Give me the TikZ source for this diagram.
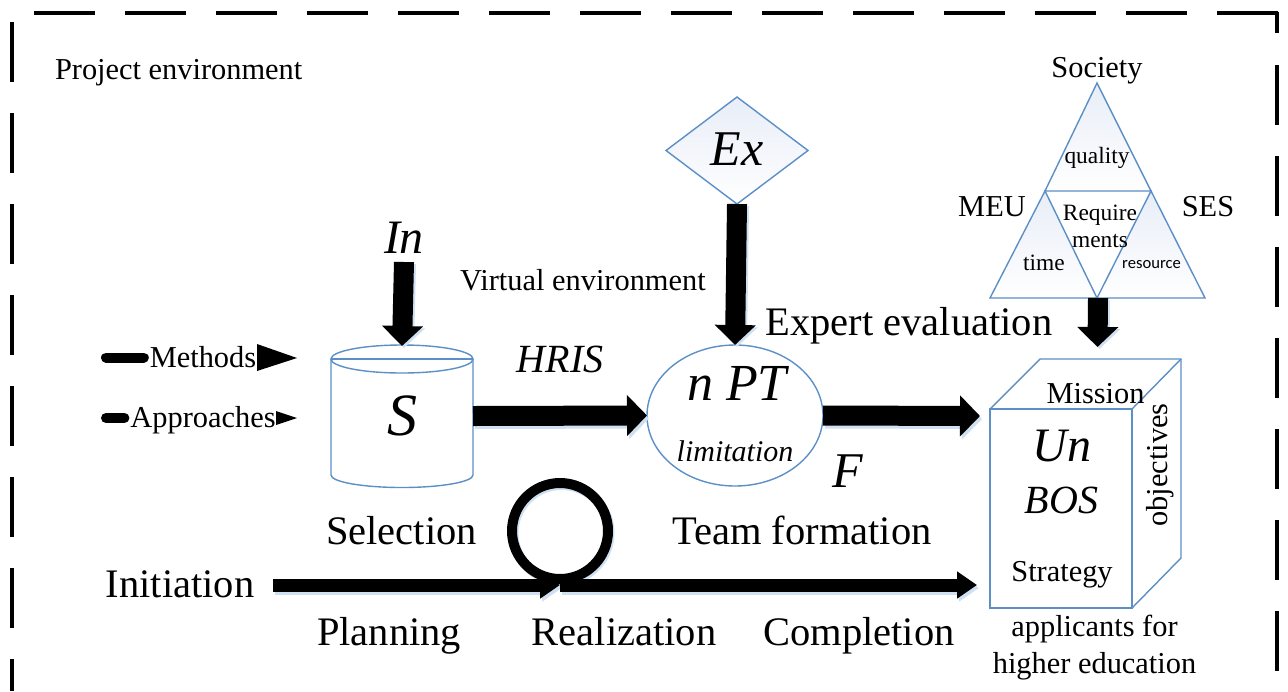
\documentclass[tikz,border=0pt]{standalone}
\usepackage{fontspec}
\setmainfont{Liberation Serif}
\newfontfamily\calfont{Carlito}
\usetikzlibrary{arrows.meta,shapes.geometric}
\definecolor{edgeblue}{HTML}{5B8FC6}
\definecolor{shadeblue}{HTML}{E8EDF7}
\definecolor{shadowblue}{HTML}{CFE0F2}
\tikzset{
  x=0.5pt,y=-0.5pt,
  lab/.style={inner sep=0pt,outer sep=0pt,anchor=base},
  labw/.style={inner sep=0pt,outer sep=0pt,anchor=base west},
  fa/.style={font=\fontsize{15.2pt}{15.2pt}\selectfont},
  fb/.style={font=\fontsize{20.25pt}{20.25pt}\selectfont},
  fc/.style={font=\fontsize{11.7pt}{11.7pt}\selectfont},
  fi/.style={font=\fontsize{#1pt}{#1pt}\selectfont\itshape},
  outline/.style={draw=edgeblue,line width=0.7pt,line join=miter},
  tri/.style={outline,top color=shadeblue,bottom color=white},
  frameline/.style={line width=2pt,black},
  blockarrow/.style={line width=10pt,black,-{Triangle[length=10pt,width=20pt]}},
  thinblock/.style={line width=6.5pt,black,-{Triangle[length=10pt,width=13pt]}},
  stroke/.style={line width=5pt,line cap=round,black,shorten >=3pt}
}
\begin{document}
\begin{tikzpicture}
\useasboundingbox (0,0) rectangle (1288,691);
% frame
\draw[frameline,dash pattern=on 30.25pt off 15.25pt] (34,13) -- (1279,13);
\draw[frameline] (1277,12) -- (1277,33);
\draw[frameline,dash pattern=on 29.75pt off 15.75pt] (1277,65) -- (1277,691);
\draw[frameline,dash pattern=on 30pt off 15.5pt] (12,22) -- (12,691);
% triangle group
\shade[tri] (1097,83) -- (1151,191) -- (1045,191) -- cycle;
\shade[tri] (1045,191) -- (1097,298) -- (990,298) -- cycle;
\shade[tri] (1151,191) -- (1205,298) -- (1097,298) -- cycle;
\coordinate (tribase) at (1098,298);
\coordinate (triarrowend) at (1097.5,347);
% shapes
\node[diamond,outline,top color=shadeblue,bottom color=white,minimum width=71pt,minimum height=53.5pt,inner sep=0pt,outer sep=0pt] (ex) at (737,150.5) {};
\node[ellipse,outline,minimum width=88pt,minimum height=70.5pt,inner sep=0pt,outer sep=0pt] (pt) at (735,415.5) {};
\node[inner sep=0pt,outer sep=0pt,minimum width=71pt,minimum height=71pt] (s) at (402,416) {};
\draw[outline] (331,359) -- (331,475) arc[start angle=180,end angle=0,x radius=71,y radius=12.5] -- (473,359);
\draw[outline] (402,359) ellipse[x radius=71,y radius=14];
\draw[outline] (331,359) -- (473,359);
% box
\node[rectangle,outline,minimum width=71pt,minimum height=99.5pt,inner sep=0pt,outer sep=0pt] (un) at (1061,508.5) {};
\draw[outline] (un.north west) -- (1040,359) -- (1181,359) -- (1181,558) -- (un.south east);
\draw[outline] (un.north east) -- (1181,359);
% named ends
\coordinate (inTop) at (404,262);
\coordinate (inEnd) at (402,346);
\coordinate (fEnd) at (980,416);
\coordinate (lineA) at (273,585);
\coordinate (lineB) at (560,585);
\coordinate (lineC) at (977,585);
% shadows
\draw[blockarrow,shadowblue] ([shift={(2,3)}]s.east) -- ([shift={(2,3)}]pt.west);
\draw[blockarrow,shadowblue] ([shift={(2,3)}]pt.east) -- ([shift={(2,3)}]fEnd);
\draw[blockarrow,shadowblue] ([shift={(2,2)}]inTop) -- ([shift={(2,2)}]inEnd);
\draw[blockarrow,shadowblue] ([shift={(2,2)}]ex.south) -- ([shift={(2,2)}]pt.north);
\draw[blockarrow,shadowblue] ([shift={(2,2)}]tribase) -- ([shift={(2,2)}]triarrowend);
\draw[thinblock,shadowblue] ([shift={(2,3)}]lineA) -- ([shift={(2,3)}]lineB);
\draw[thinblock,shadowblue] ([shift={(2,3)}]lineB) -- ([shift={(2,3)}]lineC);
\draw[shadowblue,line width=5pt] (561.5,533) circle[radius=48];
% arrows
\draw[blockarrow] (s.east) -- (pt.west);
\draw[blockarrow] (pt.east) -- (fEnd);
\draw[blockarrow] (inTop) -- (inEnd);
\draw[blockarrow] (ex.south) -- (pt.north);
\draw[blockarrow] (tribase) -- (triarrowend);
\draw[thinblock] (lineA) -- (lineB);
\draw[thinblock] (lineB) -- (lineC);
\node[circle,draw=black,line width=5pt,minimum size=48pt,inner sep=0pt,outer sep=0pt] (loop) at (560,531) {};
% labels
\node[labw,fa] (penv) at (55,79) {Project environment};
\node[lab,fa] (soc) at (1097,77) {Society};
\node[lab,fc] (qual) at (1097,163) {quality};
\node[lab,fa] (meu) at (992,216) {MEU};
\node[lab,fa] (ses) at (1208,216) {SES};
\node[lab,fc] (req1) at (1100,220) {Require};
\node[lab,fc] (req2) at (1100,247) {ments};
\node[lab,fc] (time) at (1044,270) {time};
\node[lab,font=\fontsize{8.3pt}{8.3pt}\selectfont\calfont] (res) at (1151.5,268) {resource};
\node[lab,fi=24] (intxt) at (404,253) {In};
\node[lab,fa] (venv) at (583,290) {Virtual environment};
\node[lab,fb] (eeval) at (909,335) {Expert evaluation};
\node[lab,fi=25] (extxt) at (737,165) {Ex};
\node[lab,fa] (meth) at (203,367) {Methods};
\node[lab,fa] (appr) at (203,427) {Approaches};
\node[lab,fi=30] (stxt) at (402,435) {S};
\node[lab,fi=20] (hris) at (560,372) {HRIS};
\node[lab,fi=26] (nptxt) at (737,400) {n PT};
\node[lab,fi=15] (lim) at (735,461) {limitation};
\node[lab,fi=25] (ftxt) at (848,487) {F};
\node[lab,fb] (team) at (802,544) {Team formation};
\node[lab,fb] (sel) at (401.5,544) {Selection};
\node[lab,fb] (init) at (180,597) {Initiation};
\node[lab,fb] (plan) at (389,645) {Planning};
\node[lab,fb] (real) at (624,645) {Realization};
\node[lab,fb] (comp) at (859,645) {Completion};
\node[lab,fa] (miss) at (1095.5,403) {Mission};
\node[lab,fi=24] (untxt) at (1062,461) {Un};
\node[lab,fi=20] (bos) at (1061.5,513) {BOS};
\node[lab,fa] (strat) at (1062,581) {Strategy};
\node[lab,fa,rotate=90] (obj) at (1167,465) {objectives};
\node[lab,fa] (app1) at (1094.5,636) {applicants for};
\node[lab,fa] (app2) at (1094.5,673) {higher education};
% small input arrows
\coordinate (mStart) at (106,357.5);
\coordinate (aStart) at (106,418);
\draw[stroke] (mStart) -- (meth.base west |- mStart);
\draw[stroke] (aStart) -- (appr.base west |- aStart);
\fill[black] (257,344) -- (297,358) -- (257,371) -- cycle;
\fill[black] (276,411) -- (297,418) -- (276,425) -- cycle;
\end{tikzpicture}
\end{document}
